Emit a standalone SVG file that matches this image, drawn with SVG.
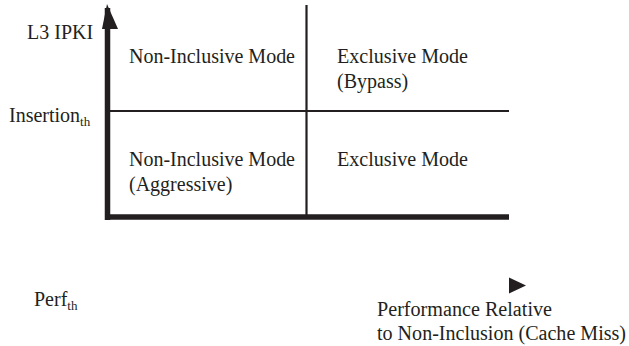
<svg xmlns="http://www.w3.org/2000/svg" width="629" height="346" viewBox="0 0 629 346">
<style>
text{font-family:"Liberation Serif","Times New Roman",serif;font-size:20px;fill:#231f20}
.sub{font-size:13px}
.thick{stroke:#231f20;stroke-width:5.5;fill:none}
.thin{stroke:#231f20;stroke-width:2.2;fill:none}
</style>
<rect width="629" height="346" fill="#fff"/>
<g id="connectors">
<line class="thick" x1="107.5" y1="8" x2="107.5" y2="220"/>
<polygon points="107,4 118,29 102,29" fill="#231f20"/>
<line class="thick" x1="105" y1="217" x2="509" y2="217"/>
<line class="thin" x1="110" y1="111" x2="509" y2="111"/>
<line class="thin" x1="306.5" y1="5" x2="306.5" y2="215"/>
<polygon points="509,277.5 526,285.5 509,293.5" fill="#231f20"/>
</g>
<g id="y-axis-label"><text x="27" y="38.5">L3 IPKI</text></g>
<g id="insertion-th"><text x="9" y="121.5">Insertion<tspan class="sub" dy="4">th</tspan></text></g>
<g id="q-top-left"><text x="129" y="62.5" textLength="166" lengthAdjust="spacingAndGlyphs">Non-Inclusive Mode</text></g>
<g id="q-top-right"><text x="337" y="62.5" textLength="131" lengthAdjust="spacingAndGlyphs">Exclusive Mode</text><text x="337" y="87.5">(Bypass)</text></g>
<g id="q-bottom-left"><text x="129" y="165.5" textLength="166" lengthAdjust="spacingAndGlyphs">Non-Inclusive Mode</text><text x="129" y="190.5">(Aggressive)</text></g>
<g id="q-bottom-right"><text x="337" y="165.5" textLength="131" lengthAdjust="spacingAndGlyphs">Exclusive Mode</text></g>
<g id="perf-th"><text x="34" y="305.5">Perf<tspan class="sub" dy="4">th</tspan></text></g>
<g id="x-axis-label"><text x="377" y="316" textLength="175" lengthAdjust="spacingAndGlyphs">Performance Relative</text><text x="377" y="340" textLength="249" lengthAdjust="spacingAndGlyphs">to Non-Inclusion (Cache Miss)</text></g>
</svg>
